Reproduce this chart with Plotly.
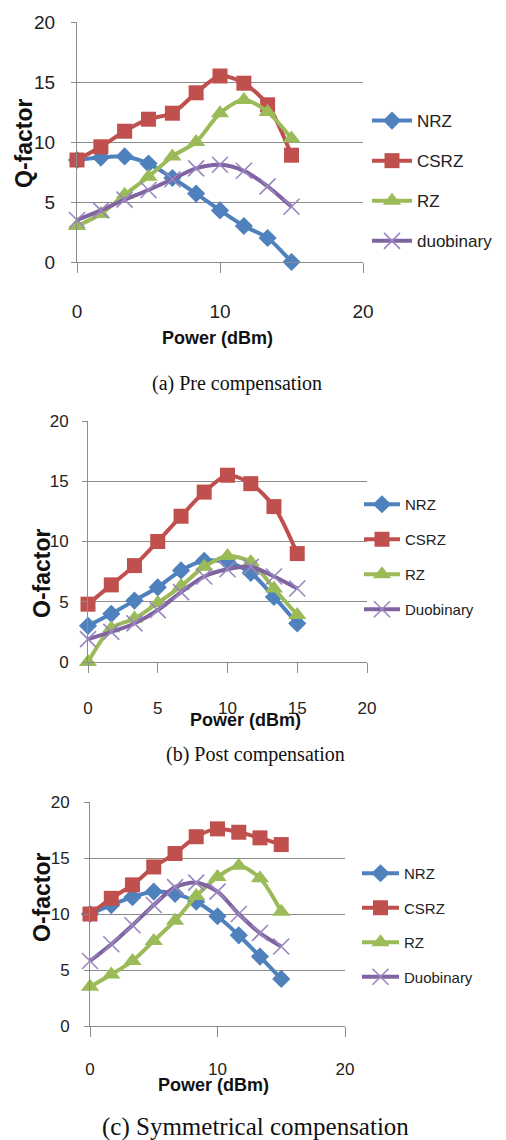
import plotly.graph_objects as go

# ---------------- data ----------------
power = [0, 1.67, 3.33, 5, 6.67, 8.33, 10, 11.67, 13.33, 15]
series_names_a = ["NRZ", "CSRZ", "RZ", "duobinary"]
series_names_bc = ["NRZ", "CSRZ", "RZ", "Duobinary"]

nrz_pre = [8.5, 8.7, 8.8, 8.2, 7.0, 5.7, 4.3, 3.0, 2.0, 0.0]
csrz_pre = [8.5, 9.6, 10.9, 11.9, 12.4, 14.1, 15.5, 14.9, 13.1, 8.9]
rz_pre = [3.0, 4.0, 5.6, 7.1, 8.8, 10.0, 12.4, 13.5, 12.5, 10.3]
duo_pre = [3.5, 4.3, 5.2, 6.0, 6.9, 7.8, 8.1, 7.6, 6.3, 4.6]

nrz_post = [3.0, 4.0, 5.1, 6.2, 7.6, 8.4, 8.3, 7.4, 5.4, 3.2]
csrz_post = [4.8, 6.4, 8.0, 10.0, 12.1, 14.1, 15.5, 14.8, 12.9, 9.0]
rz_post = [0.0, 2.8, 3.6, 4.9, 6.3, 7.9, 8.8, 8.3, 6.1, 3.9]
duo_post = [1.9, 2.5, 3.2, 4.3, 5.8, 7.1, 7.7, 7.9, 7.1, 6.1]

nrz_sym = [10.0, 10.8, 11.5, 12.0, 11.8, 11.1, 9.8, 8.1, 6.2, 4.2]
csrz_sym = [10.0, 11.4, 12.6, 14.2, 15.4, 16.9, 17.6, 17.3, 16.8, 16.2]
rz_sym = [3.5, 4.6, 5.8, 7.6, 9.4, 11.6, 13.3, 14.3, 13.2, 10.2]
duo_sym = [5.8, 7.3, 9.0, 10.8, 12.4, 12.8, 12.0, 10.0, 8.3, 7.1]

captions = ["(a) Pre compensation", "(b) Post compensation", "(c) Symmetrical compensation"]
ytitles = ["Q-factor", "O-factor", "O-factor"]
xtitle = "Power (dBm)"

# ---------------- styling ----------------
W, H = 506, 1140
colors = ["#4F81BD", "#C0504D", "#9BBB59", "#8064A2"]
symbols = ["diamond", "square", "triangle-up", "x-thin"]
msizes = [14, 15, 16, 16]
SANS = "Liberation Sans, Arial, sans-serif"
SERIF = "Liberation Serif, Times New Roman, serif"
GRID = "#8C8C8C"

# pixel boxes of the three plot areas: (left, right, top, bottom)
boxes = [(77, 363, 22, 262), (88, 367, 421, 662), (90, 345, 802, 1026)]
xdticks = [10, 5, 10]
tickfs = [19, 17, 17]
legfs = [17, 15, 15]
leg_pos = [(367, 103), (359, 488), (357, 857)]
leg_itemw = [40, 36, 37]
leg_gap = [15, 12.5, 12]
xlab_standoff = [22, 21, 18]
ylab_standoff = [12, 10, 11]
xtitle_pos = [(217, 338), (245, 720), (213, 1085)]
ytitle_pos = [(24, 143), (42, 573), (42, 897)]
caption_pos = [(237, 383), (256, 755), (256, 1127)]
caption_fs = [20, 20, 25]

data_sets = [
    (series_names_a, [nrz_pre, csrz_pre, rz_pre, duo_pre]),
    (series_names_bc, [nrz_post, csrz_post, rz_post, duo_post]),
    (series_names_bc, [nrz_sym, csrz_sym, rz_sym, duo_sym]),
]

fig = go.Figure()
annotations = []
layout = dict(
    width=W, height=H,
    margin=dict(l=0, r=0, t=0, b=0, pad=0, autoexpand=False),
    paper_bgcolor="white", plot_bgcolor="white", showlegend=True,
)

for p, ((names, ys), (l, r, t, b)) in enumerate(zip(data_sets, boxes)):
    idx = "" if p == 0 else str(p + 1)
    leg = "legend" if p == 0 else f"legend{p + 1}"
    for k, (name, yv) in enumerate(zip(names, ys)):
        marker = dict(symbol=symbols[k], size=msizes[k], color=colors[k])
        if symbols[k] == "x-thin":
            marker["color"] = "#9A86C0"
            marker["line"] = dict(width=1.6, color="#9A86C0")
        else:
            marker["line"] = dict(width=0)
        fig.add_trace(go.Scatter(
            x=power, y=yv, name=name, mode="lines+markers",
            line=dict(color=colors[k], width=4, shape="spline", smoothing=0.8),
            marker=marker, cliponaxis=False,
            xaxis="x" + idx, yaxis="y" + idx, legend=leg,
            legendgroup=f"g{p}_{k}",
        ))
    layout["xaxis" + idx] = dict(
        domain=[l / W, r / W], anchor="y" + idx, range=[0, 20],
        tick0=0, dtick=xdticks[p], showgrid=False, zeroline=False,
        showline=True, linecolor=GRID, linewidth=1,
        ticks="outside", ticklen=10, tickcolor=GRID, tickwidth=1,
        ticklabelstandoff=xlab_standoff[p], automargin=False,
        tickfont=dict(family=SANS, size=tickfs[p], color="#222"),
    )
    layout["yaxis" + idx] = dict(
        domain=[1 - b / H, 1 - t / H], anchor="x" + idx, range=[0, 20],
        tick0=0, dtick=5, showgrid=True, gridcolor=GRID, gridwidth=1,
        zeroline=False, showline=True, linecolor=GRID, linewidth=1,
        ticks="outside", ticklen=5, tickcolor=GRID, tickwidth=1,
        ticklabelstandoff=ylab_standoff[p], automargin=False,
        tickfont=dict(family=SANS, size=tickfs[p], color="#222"),
    )
    lx, ly = leg_pos[p]
    layout[leg] = dict(
        x=lx / W, y=1 - ly / H, xanchor="left", yanchor="top",
        bgcolor="rgba(0,0,0,0)", itemwidth=leg_itemw[p], tracegroupgap=leg_gap[p],
        font=dict(family=SANS, size=legfs[p], color="#222"),
    )
    xtx, xty = xtitle_pos[p]
    annotations.append(dict(
        text="<b>" + xtitle + "</b>", xref="paper", yref="paper",
        x=xtx / W, y=1 - xty / H, xanchor="center", yanchor="middle",
        showarrow=False, font=dict(family=SANS, size=18, color="#111"),
    ))
    ytx, yty = ytitle_pos[p]
    annotations.append(dict(
        text="<b>" + ytitles[p] + "</b>", xref="paper", yref="paper",
        x=ytx / W, y=1 - yty / H, xanchor="center", yanchor="middle",
        textangle=-90, showarrow=False,
        font=dict(family=SANS, size=23, color="#111"),
    ))
    cx, cy = caption_pos[p]
    annotations.append(dict(
        text=captions[p], xref="paper", yref="paper",
        x=cx / W, y=1 - cy / H, xanchor="center", yanchor="middle",
        showarrow=False, font=dict(family=SERIF, size=caption_fs[p], color="#111"),
    ))

layout["annotations"] = annotations
fig.update_layout(**layout)
fig.write_html("out.html")
